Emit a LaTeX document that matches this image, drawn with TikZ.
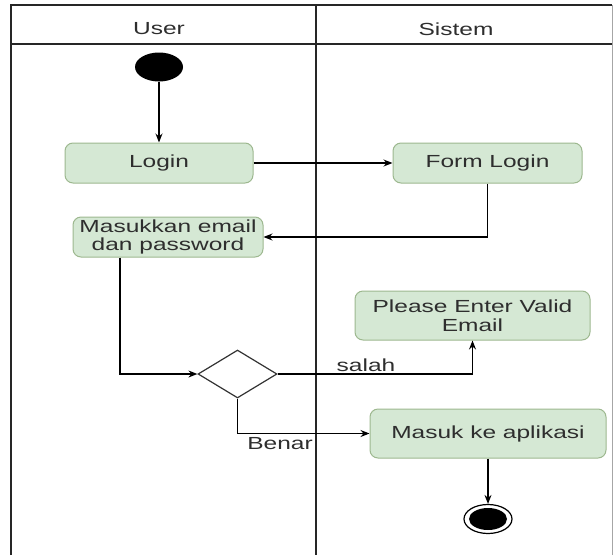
\documentclass[tikz,border=0pt]{standalone}
\usepackage{fontspec}
\setmainfont[FakeStretch=1.4]{Liberation Sans}
\usetikzlibrary{shapes.geometric,arrows.meta}
\definecolor{actfill}{HTML}{D5E8D4}
\definecolor{actdraw}{HTML}{9DB88F}
\definecolor{txt}{HTML}{2E2E2E}
\begin{document}
\begin{tikzpicture}[x=1pt,y=-1pt,
  act/.style={draw=actdraw, fill=actfill, rounded corners=8pt, line width=1pt,
    text=txt, font=\fontsize{17.5}{18.5}\selectfont, align=center, inner sep=0pt},
  flow/.style={draw=black, line width=1.2pt, -{Stealth[length=9pt,width=7pt]}},
  lane/.style={draw=black!85, line width=1.4pt},
  lbl/.style={text=txt, font=\fontsize{17.5}{18.5}\selectfont, inner sep=0pt}]
\useasboundingbox (0,0) rectangle (613,555);
% swimlanes
\draw[lane] (11,555) -- (11,5) -- (612,5);
\draw[draw=black!35, line width=1pt] (612,5) -- (612,555);
\draw[lane] (11,44) -- (612,44);
\draw[lane] (316,5) -- (316,555);
\node[lbl] (huser) at (159,29) {User};
\node[lbl] (hsis) at (456,29) {Sistem};
% nodes
\node[ellipse, fill=black, minimum width=48pt, minimum height=29pt, inner sep=0pt] (start) at (159,67) {};
\node[act, minimum width=188pt, minimum height=40pt] (login) at (159,163) {Login};
\node[act, minimum width=189pt, minimum height=40pt] (form) at (487.5,163) {Form Login};
\node[act, minimum width=190pt, minimum height=40pt] (mas) at (168,237) {Masukkan email\\dan password};
\node[diamond, draw=black!80, line width=1.2pt, fill=white, minimum width=79pt, minimum height=48pt, inner sep=0pt] (dec) at (237.5,374) {};
\node[act, minimum width=235pt, minimum height=49pt] (please) at (472.5,315.5) {Please Enter Valid\\Email};
\node[act, minimum width=236pt, minimum height=49pt] (app) at (488,433.5) {Masuk ke aplikasi};
\node[ellipse, draw=black, line width=1.2pt, fill=white, minimum width=48pt, minimum height=29pt, inner sep=0pt] (end) at (488,519) {};
\node[ellipse, fill=black, minimum width=38pt, minimum height=22pt, inner sep=0pt] (endin) at (488,519) {};
% connectors
\draw[flow] (start) -- (login);
\draw[flow] (login) -- (form);
\draw[flow] (form.south) |- (mas.east);
\draw[flow] ([xshift=-48pt]mas.south) |- (dec.west);
\draw[flow] (dec.east) -| (please.south);
\draw[flow] (dec.south) |- (app.west);
\draw[flow] (app) -- (end);
\node[lbl] (lsalah) at (366,365) {salah};
\node[lbl] (lbenar) at (280,443.5) {Benar};
\end{tikzpicture}
\end{document}
